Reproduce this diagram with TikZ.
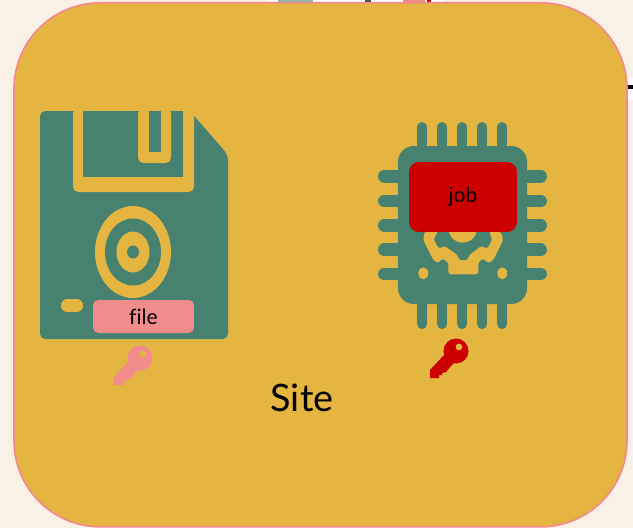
\documentclass[tikz,border=0pt]{standalone}
\usepackage{fontspec}
\setmainfont{Lato}[Ligatures=CommonOff]
\definecolor{pagebg}{HTML}{F9F0E6}
\definecolor{sitefill}{HTML}{E4B540}
\definecolor{siteline}{HTML}{F28C8C}
\definecolor{chipgreen}{HTML}{478170}
\definecolor{jobred}{HTML}{CC0000}
\usetikzlibrary{positioning}

\begin{document}
\begin{tikzpicture}[x=0.02cm,y=-0.02cm,
  label/.style={inner sep=0pt,rounded corners=3pt,text=black,font=\fontsize{12}{14}\selectfont},
  pics/sitekey/.style={code={
    \fill[#1,even odd rule] (0,0) circle (12.5) (3,-4) circle (3.5);
    \fill[#1] (-12,4) -- (-26,19) -- (-26,27) -- (-17,27) -- (-17,24) -- (-14,24) -- (-14,22) -- (-10,21) -- (-5,15) -- (0,10) -- cycle;
  }}]
\useasboundingbox (0,0) rectangle (633,528);
\fill[pagebg] (0,0) rectangle (633,528);
\fill[white] (268,0) rectangle (442,3);
\fill[chipgreen!60] (278,0) rectangle (313,3);
\fill[black!70] (365,0) rectangle (371,2);
\fill[siteline] (403,0) rectangle (425,3);
\fill[jobred] (427,0) rectangle (431,2);
\fill[white] (625,78) rectangle (633,100);
\fill[black] (625,85) rectangle (633,89);
\node[draw=siteline,fill=sitefill,line width=1pt,rounded corners=49pt,minimum width=12.26cm,minimum height=10.48cm,inner sep=0pt] (site) at (320.5,264.8) {};
% floppy
\fill[chipgreen,rounded corners=3pt] (40,111) -- (190,111) -- (228,155) -- (228,339) -- (40,339) -- cycle;
\fill[sitefill,rounded corners=3pt] (73,108) -- (194,108) -- (194,192) -- (73,192) -- cycle;
\fill[chipgreen] (83,111) rectangle (183,177);
\fill[sitefill,rounded corners=3pt] (138,108) -- (171,108) -- (171,163) -- (138,163) -- cycle;
\fill[chipgreen] (149,111) rectangle (161,152);
\fill[sitefill] (133,252) ellipse [x radius=38,y radius=46];
\fill[chipgreen] (133,252) ellipse [x radius=28,y radius=33.5];
\fill[sitefill] (133,252) ellipse [x radius=16.5,y radius=20.5];
\fill[chipgreen] (133,252) ellipse [x radius=6,y radius=6.5];
\fill[sitefill,rounded corners=3.6pt] (61,299) rectangle (83,312);
\node[label,fill=siteline,minimum width=2.02cm,minimum height=0.66cm] (file) at (143.5,316.5) {file};
% chip
\foreach \px in {422.3,442.3,462.3,482.3,502.3}
  \draw[chipgreen,line width=5.67pt,line cap=round] (\px,127) -- (\px,324);
\foreach \py in {176.3,201,225.3,249.7,274}
  \draw[chipgreen,line width=7.1pt,line cap=round] (384.3,\py) -- (540.7,\py);
\fill[chipgreen,rounded corners=9pt] (398,146) rectangle (527,304);
\fill[sitefill,rounded corners=1.5pt] (424.3,231.7) -- (423.3,240) -- (433.3,260) -- (438.3,263.3) -- (442.3,258.3) -- (448.3,262.3) -- (448.3,274.3) -- (478.3,274.3) -- (478.3,262.3) -- (483.3,258.3) -- (488.3,263.3) -- (493.3,260) -- (503.3,240) -- (501,231.7) -- (489,231.7) -- (492.3,239) -- (487.3,249) -- (481.7,245.7) -- (468.3,255.7) -- (468.3,260) -- (458.3,260) -- (458.3,255.7) -- (444.3,245.7) -- (439,249) -- (433.3,239) -- (438.3,231.7) -- cycle;
\fill[sitefill] (462.7,228.3) circle (14.3);
\fill[sitefill] (423.3,273.3) ellipse [x radius=5,y radius=6];
\fill[sitefill] (502.3,273.3) ellipse [x radius=5,y radius=6];
\node[label,fill=jobred,rounded corners=5.7pt,minimum width=2.16cm,minimum height=1.4cm] (job) at (463,197) {job};
% keys
\pic at (140,358) {sitekey=siteline};
\pic at (456,351) {sitekey=jobred};
\node[inner sep=0pt,font=\fontsize{21.5}{26}\selectfont] (sitelabel) at (302,398) {Site};
\end{tikzpicture}
\end{document}
